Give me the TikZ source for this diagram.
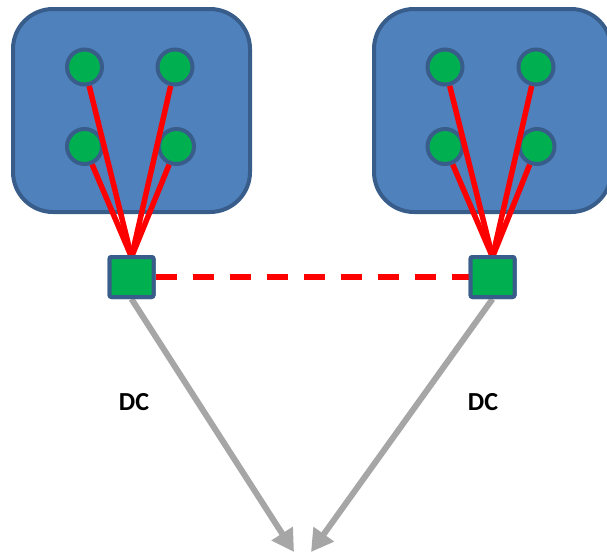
\documentclass[tikz,border=0pt]{standalone}
\usepackage{fontspec}
\setmainfont{Carlito}
\usetikzlibrary{arrows.meta}
\definecolor{boxfill}{HTML}{4F81BD}
\definecolor{boxline}{HTML}{385D8A}
\definecolor{hostgreen}{HTML}{00B050}
\definecolor{linkred}{HTML}{FF0000}
\definecolor{uplink}{HTML}{A6A6A6}
\tikzset{
  site/.style={draw=boxline, fill=boxfill, line width=4pt, rounded corners=40pt},
  host/.style={circle, draw=boxline, fill=hostgreen, line width=4pt, minimum size=35pt, inner sep=0pt},
  switch/.style={rectangle, draw=boxline, fill=hostgreen, line width=4pt, minimum width=44pt, minimum height=40pt, inner sep=0pt, rounded corners=2pt},
  access/.style={draw=linkred, line width=5.5pt},
  interlink/.style={draw=linkred, line width=6pt, dash pattern=on 21pt off 16pt},
  wan/.style={draw=uplink, line width=6pt, -{Triangle[length=22pt, width=24pt]}},
  label/.style={font=\bfseries\fontsize{26}{30}\selectfont, text=black}
}
\begin{document}
\begin{tikzpicture}[x=1pt, y=-1pt]
  \useasboundingbox (0,0) rectangle (607,552);
  \clip (0,0) rectangle (607,552);

  % two sites
  \draw[site] (13,9) rectangle (250,212);
  \draw[site] (374,9) rectangle (611,212);

  % switches
  \node[switch] (swL) at (131.5,277) {};
  \node[switch] (swR) at (492.5,277) {};
  \coordinate (hubL) at (131.5,257);
  \coordinate (hubR) at (492.5,257);

  % hosts in the left site
  \node[host] (l1) at (84.5,67) {};
  \node[host] (l2) at (175,67) {};
  \node[host] (l3) at (84.5,146.5) {};
  \node[host] (l4) at (176.5,146.5) {};
  % hosts in the right site
  \node[host] (r1) at (445,67) {};
  \node[host] (r2) at (536,67) {};
  \node[host] (r3) at (445,146.5) {};
  \node[host] (r4) at (537,146.5) {};

  % access links
  \foreach \h in {l1,l2,l3,l4} \draw[access] (\h) -- (hubL);
  \foreach \h in {r1,r2,r3,r4} \draw[access] (\h) -- (hubR);

  % inter-site link
  \draw[interlink] (swL.east) -- (swR.west);

  % uplinks
  \coordinate (sinkL) at (294,552);
  \coordinate (sinkR) at (311,552);
  \draw[wan] (swL.south) -- (sinkL);
  \draw[wan] (swR.south) -- (sinkR);

  % redraw switches on top
  \node[switch] at (swL) {};
  \node[switch] at (swR) {};

  \node[label] (dcL) at (134,402) {DC};
  \node[label] (dcR) at (483,402) {DC};
\end{tikzpicture}
\end{document}
